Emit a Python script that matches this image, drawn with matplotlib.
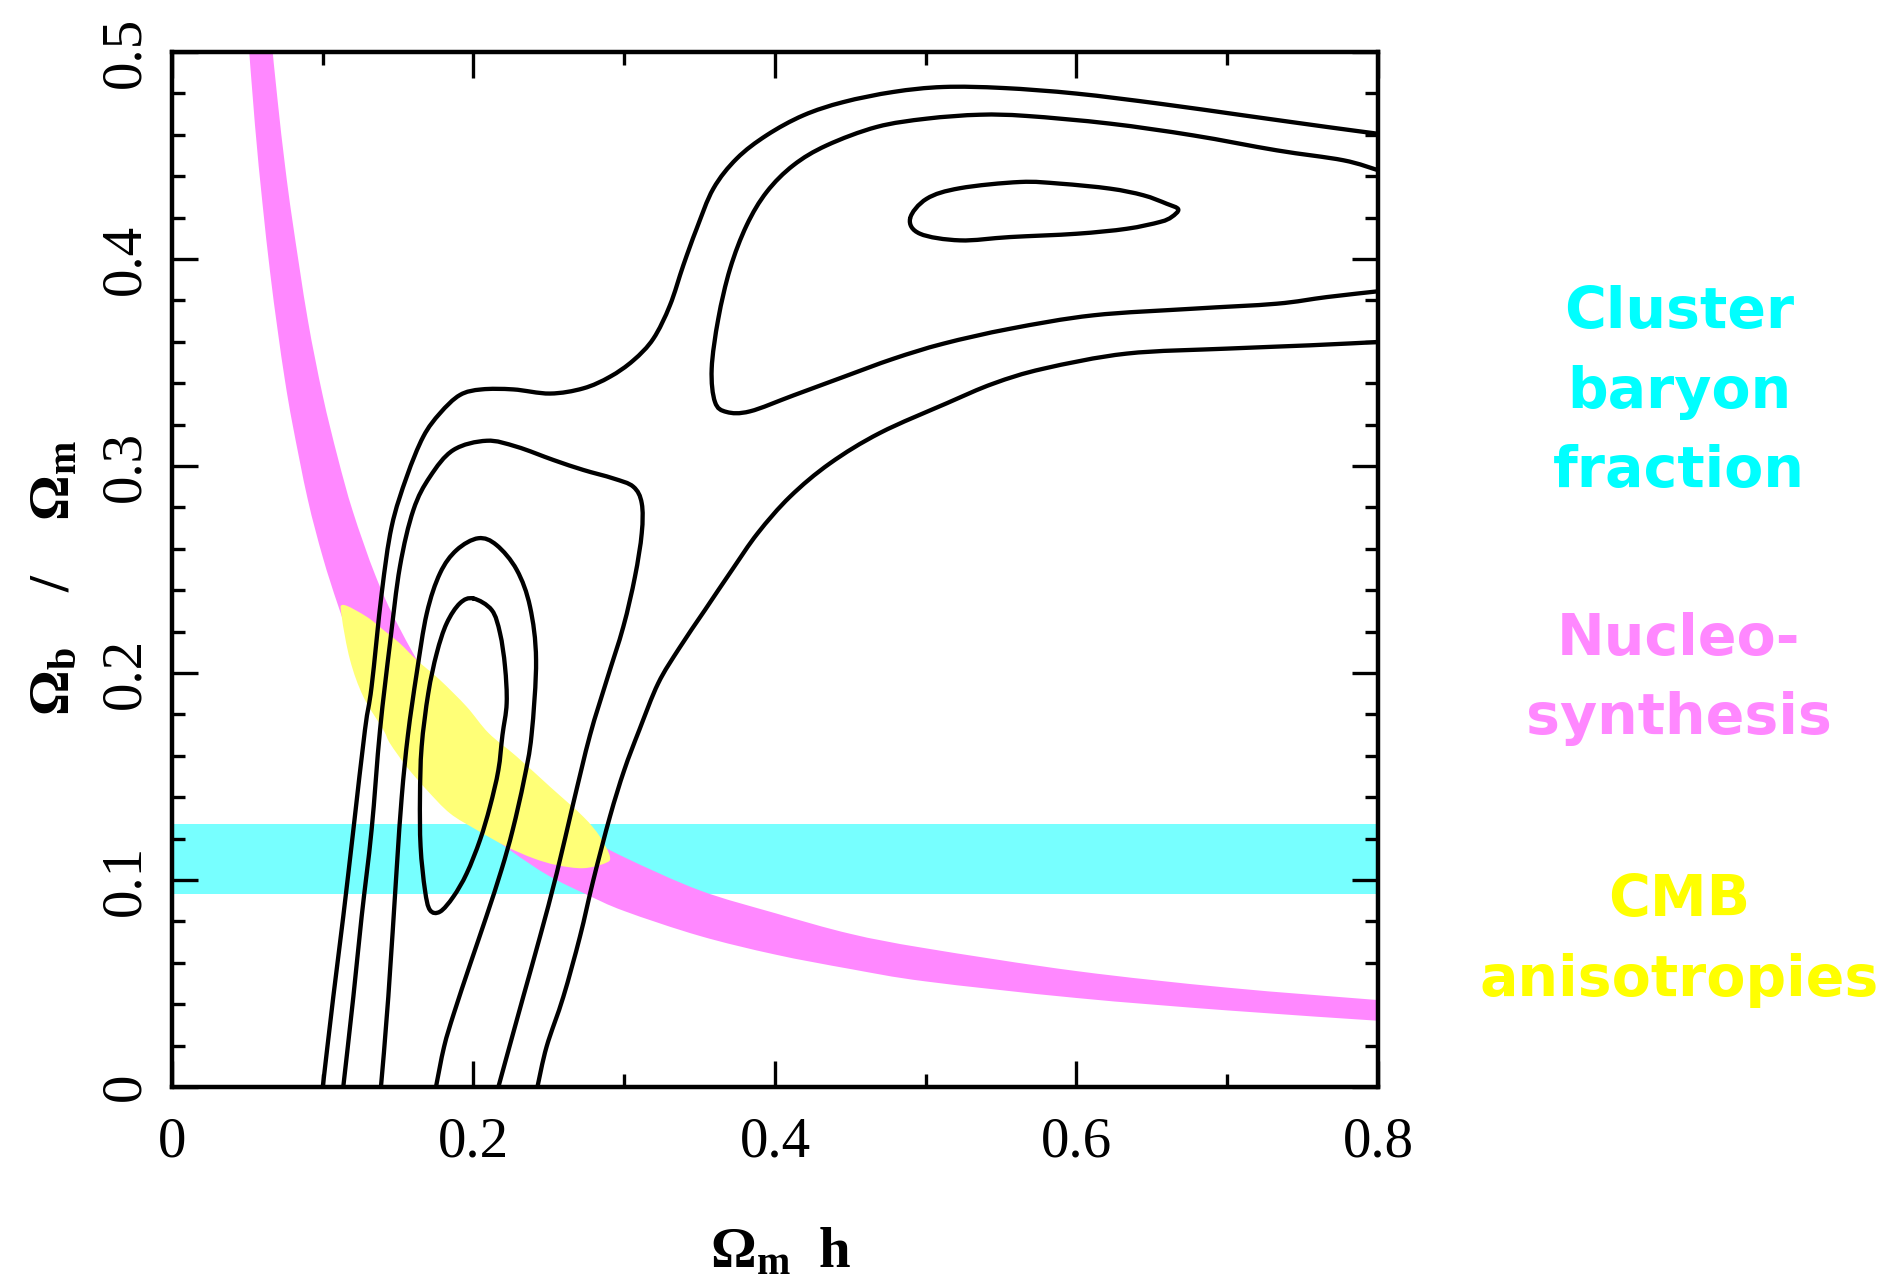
import numpy as np
import matplotlib.pyplot as plt
from matplotlib.path import Path
from matplotlib.patches import PathPatch
from matplotlib.ticker import MultipleLocator

plt.rcParams['mathtext.fontset'] = 'custom'
plt.rcParams['mathtext.rm'] = 'Liberation Serif'
plt.rcParams['mathtext.bf'] = 'Liberation Serif:bold'
plt.rcParams['mathtext.it'] = 'Liberation Serif:italic'

# Nucleosynthesis band (Omega_b h^2), lower and upper edge
bbn_x = [0.050, 0.055, 0.060, 0.065, 0.070, 0.075, 0.080, 0.090, 0.100, 0.110,
         0.120, 0.135, 0.150, 0.175, 0.200, 0.225, 0.250, 0.275, 0.300, 0.350,
         0.400, 0.450, 0.500, 0.600, 0.700, 0.800]
bbn_low = [0.512, 0.465, 0.427, 0.394, 0.366, 0.341, 0.320, 0.284, 0.256, 0.233,
           0.213, 0.190, 0.171, 0.146, 0.128, 0.114, 0.102, 0.093, 0.085, 0.073,
           0.064, 0.057, 0.051, 0.043, 0.037, 0.032]
bbn_high = [0.668, 0.607, 0.557, 0.514, 0.477, 0.445, 0.418, 0.371, 0.334, 0.304,
            0.278, 0.247, 0.223, 0.191, 0.167, 0.148, 0.134, 0.121, 0.111, 0.095,
            0.084, 0.074, 0.067, 0.056, 0.048, 0.042]

# cluster baryon fraction
cluster_fb = (0.093, 0.127)

# CMB allowed region
cmb = np.array([
    (0.1136, 0.2329), (0.1291, 0.2272), (0.1402, 0.2208), (0.1512, 0.2143),
    (0.1623, 0.2063), (0.1778, 0.1966), (0.1955, 0.1837), (0.2100, 0.1710),
    (0.2287, 0.1596), (0.2507, 0.1451), (0.2728, 0.1306), (0.2839, 0.1209),
    (0.2905, 0.1113), (0.2873, 0.1081), (0.2728, 0.1057), (0.2552, 0.1072),
    (0.2397, 0.1105), (0.2220, 0.1161), (0.2021, 0.1242), (0.1844, 0.1322),
    (0.1690, 0.1435), (0.1557, 0.1547), (0.1446, 0.1660), (0.1402, 0.1725),
    (0.1269, 0.1886), (0.1181, 0.2063), (0.1126, 0.2272)])

# likelihood contours
outer_upper = np.array([
    (0.100, 0.000), (0.107, 0.0436), (0.1136, 0.0823), (0.1203, 0.1242),
    (0.128, 0.1725), (0.1324, 0.1934), (0.1391, 0.2385), (0.1457, 0.2707),
    (0.1557, 0.2948), (0.1667, 0.3142), (0.1778, 0.3255), (0.191, 0.3343),
    (0.2054, 0.3370), (0.2264, 0.3370), (0.2507, 0.3350), (0.2728, 0.3375),
    (0.2905, 0.3431), (0.3060, 0.3510), (0.3193, 0.3615), (0.3303, 0.3776),
    (0.3392, 0.3970), (0.3480, 0.4146), (0.3591, 0.4340), (0.3746, 0.4485),
    (0.3945, 0.4598), (0.4188, 0.4694), (0.4453, 0.4758), (0.4785, 0.4807),
    (0.5117, 0.4831), (0.5515, 0.4826), (0.6001, 0.4799), (0.6554, 0.4750),
    (0.7107, 0.4694), (0.7660, 0.4638), (0.800, 0.4605)])
outer_lower = np.array([
    (0.2424, 0.000), (0.2485, 0.0195), (0.2596, 0.0436), (0.2706, 0.0726),
    (0.2795, 0.1000), (0.2905, 0.1306), (0.3000, 0.1531), (0.3100, 0.1725),
    (0.3225, 0.1950), (0.3365, 0.2120), (0.3535, 0.2304), (0.3715, 0.2498),
    (0.3885, 0.2675), (0.4100, 0.2852), (0.4365, 0.3013), (0.4697, 0.3160),
    (0.5139, 0.3303), (0.5448, 0.3398), (0.5780, 0.3470), (0.6333, 0.3543),
    (0.6996, 0.3567), (0.7549, 0.3583), (0.800, 0.3599)])
upper_mid = np.array([
    (0.800, 0.4429), (0.7770, 0.4477), (0.7328, 0.4525), (0.6775, 0.4597),
    (0.6222, 0.4654), (0.5670, 0.4691), (0.5360, 0.4697), (0.5006, 0.4678),
    (0.4675, 0.4638), (0.4343, 0.4549), (0.4122, 0.4453), (0.3945, 0.4324),
    (0.3812, 0.4163), (0.3702, 0.3953), (0.3624, 0.3712), (0.3580, 0.3470),
    (0.3602, 0.3309), (0.3679, 0.3261), (0.3834, 0.3264), (0.4122, 0.3341),
    (0.4453, 0.3430), (0.4785, 0.3518), (0.5117, 0.3591), (0.5559, 0.3663),
    (0.6112, 0.3728), (0.6775, 0.3760), (0.7328, 0.3784), (0.7660, 0.3816),
    (0.800, 0.3844)])
upper_core = np.array([
    (0.4896, 0.4195), (0.5006, 0.4291), (0.5227, 0.4342), (0.5625, 0.4372),
    (0.5891, 0.4364), (0.6222, 0.4340), (0.6443, 0.4308), (0.6598, 0.4267),
    (0.6675, 0.4240), (0.6631, 0.4203), (0.6554, 0.4179), (0.6333, 0.4146),
    (0.6001, 0.4122), (0.5559, 0.4106), (0.5227, 0.4090), (0.4962, 0.4122)])
lower_mid = np.array([
    (0.1136, 0.000), (0.1203, 0.0436), (0.1258, 0.0823), (0.1324, 0.1242),
    (0.1380, 0.1725), (0.1446, 0.2143), (0.1512, 0.2514), (0.1601, 0.2787),
    (0.1711, 0.2948), (0.1866, 0.3077), (0.2088, 0.3122), (0.2287, 0.3093),
    (0.2530, 0.3029), (0.2728, 0.2981), (0.2927, 0.2940), (0.3060, 0.2900),
    (0.3116, 0.2820), (0.3116, 0.2675), (0.3071, 0.2465), (0.2994, 0.2224),
    (0.2884, 0.1966), (0.2773, 0.1700), (0.2662, 0.1371), (0.2552, 0.1032),
    (0.2441, 0.0726), (0.2330, 0.0436), (0.2220, 0.0146), (0.2165, 0.000)])
lower_ring = np.array([
    (0.1386, 0.000), (0.1435, 0.0436), (0.1490, 0.1048), (0.1524, 0.1402),
    (0.1565, 0.1700), (0.1623, 0.1998), (0.1690, 0.2288), (0.1778, 0.2482),
    (0.1888, 0.2594), (0.2032, 0.2651), (0.2153, 0.2618), (0.2287, 0.2498),
    (0.2375, 0.2320), (0.2415, 0.2063), (0.2385, 0.1700), (0.2335, 0.1483),
    (0.2260, 0.1242), (0.2185, 0.1048), (0.2085, 0.0823), (0.1980, 0.0598),
    (0.1870, 0.0356), (0.1805, 0.0195), (0.1751, 0.000)])
lower_core = np.array([
    (0.1999, 0.2360), (0.2121, 0.2304), (0.2176, 0.2192), (0.2209, 0.2031),
    (0.2220, 0.1854), (0.2192, 0.1700), (0.2165, 0.1531), (0.2109, 0.1354),
    (0.2043, 0.1193), (0.1955, 0.1032), (0.1866, 0.0919), (0.1778, 0.0847),
    (0.1711, 0.0855), (0.1678, 0.0952), (0.1649, 0.1161), (0.1645, 0.1402),
    (0.1656, 0.1644), (0.1700, 0.1902), (0.1756, 0.2095), (0.1822, 0.2240),
    (0.1910, 0.2337)])

x_ticks = [0, 0.2, 0.4, 0.6, 0.8]
y_ticks = [0, 0.1, 0.2, 0.3, 0.4, 0.5]

side_labels = [["Cluster", "baryon", "fraction"],
               ["Nucleo-", "synthesis"],
               ["CMB", "anisotropies"]]


def smooth_verts(pts, closed=False):
    """Catmull-Rom through the points, written as cubic Bezier segments."""
    pts = np.asarray(pts, float)
    n = len(pts)
    if closed:
        ext = np.vstack([pts[-1], pts, pts[0], pts[1]])
        nseg = n
    else:
        ext = np.vstack([pts[0], pts, pts[-1]])
        nseg = n - 1
    verts = [ext[1]]
    for i in range(nseg):
        p0, p1, p2, p3 = ext[i], ext[i + 1], ext[i + 2], ext[i + 3]
        verts += [p1 + (p2 - p0) / 6, p2 - (p3 - p1) / 6, p2]
    return verts


def smooth_path(pts, closed=False):
    verts = smooth_verts(pts, closed)
    codes = [Path.MOVETO] + [Path.CURVE4] * (len(verts) - 1)
    return Path(verts, codes)


W, H = 1890, 1285
fig = plt.figure(figsize=(W / 100, H / 100), dpi=100)
ax = fig.add_axes([172 / W, 1 - 1087 / H, 1206 / W, 1035 / H])

ax.axhspan(*cluster_fb, color='#77ffff', lw=0, zorder=1)

# BBN band: upper edge out, lower edge back
upper = smooth_verts(list(zip(bbn_x, bbn_high)))
lower = smooth_verts(list(zip(bbn_x, bbn_low))[::-1])
band_verts = upper + lower + [upper[0]]
band_codes = ([Path.MOVETO] + [Path.CURVE4] * (len(upper) - 1)
              + [Path.LINETO] + [Path.CURVE4] * (len(lower) - 1)
              + [Path.CLOSEPOLY])
ax.add_patch(PathPatch(Path(band_verts, band_codes), facecolor='#ff88ff',
                       lw=0, zorder=2))

ax.add_patch(PathPatch(smooth_path(cmb, closed=True), facecolor='#ffff77',
                       lw=0, zorder=3))

for c, closed in [(outer_upper, False), (outer_lower, False),
                  (upper_mid, False), (upper_core, True),
                  (lower_mid, False), (lower_ring, False),
                  (lower_core, True)]:
    ax.add_patch(PathPatch(smooth_path(c, closed), facecolor='none',
                           edgecolor='black', lw=3.1, joinstyle='round',
                           capstyle='round', zorder=4))

ax.set_xlim(0, 0.8)
ax.set_ylim(0, 0.5)

tick_font = dict(family='Liberation Serif', size=41)
ax.set_xticks(x_ticks)
ax.set_xticklabels(['{:g}'.format(v) for v in x_ticks], fontdict=tick_font)
ax.set_yticks(y_ticks)
ax.set_yticklabels(['{:g}'.format(v) for v in y_ticks], fontdict=tick_font,
                   rotation=90, va='center')
ax.xaxis.set_minor_locator(MultipleLocator(0.1))
ax.yaxis.set_minor_locator(MultipleLocator(0.02))

ax.tick_params(which='both', direction='in', top=True, right=True,
               width=2.4, color='black')
ax.tick_params(which='major', length=19)
ax.tick_params(which='minor', length=9.5)
ax.tick_params(axis='x', which='major', pad=21)
ax.tick_params(axis='y', which='major', pad=15)
for s in ax.spines.values():
    s.set_linewidth(3.2)
    s.set_zorder(5)

fig.text(780 / W, 1 - 1252 / H, r'$\mathbf{\Omega_m\ \ h}$',
         fontsize=41, ha='center', va='center')
fig.text(54 / W, 1 - 578 / H, r'$\mathbf{\Omega_b\quad\ /\ \quad\Omega_m}$',
         fontsize=41, ha='center', va='center', rotation=90)

# coloured legend text on the right
label_colors = ['#00ffff', '#ff88ff', '#ffff00']
first_baseline = [328, 655, 916]
for lines, col, y0 in zip(side_labels, label_colors, first_baseline):
    for i, s in enumerate(lines):
        fig.text(1679 / W, 1 - (y0 + 79.5 * i) / H, s, color=col,
                 family='DejaVu Sans', weight='bold', fontsize=41,
                 ha='center', va='baseline')

fig.savefig('out.png', dpi=100)
